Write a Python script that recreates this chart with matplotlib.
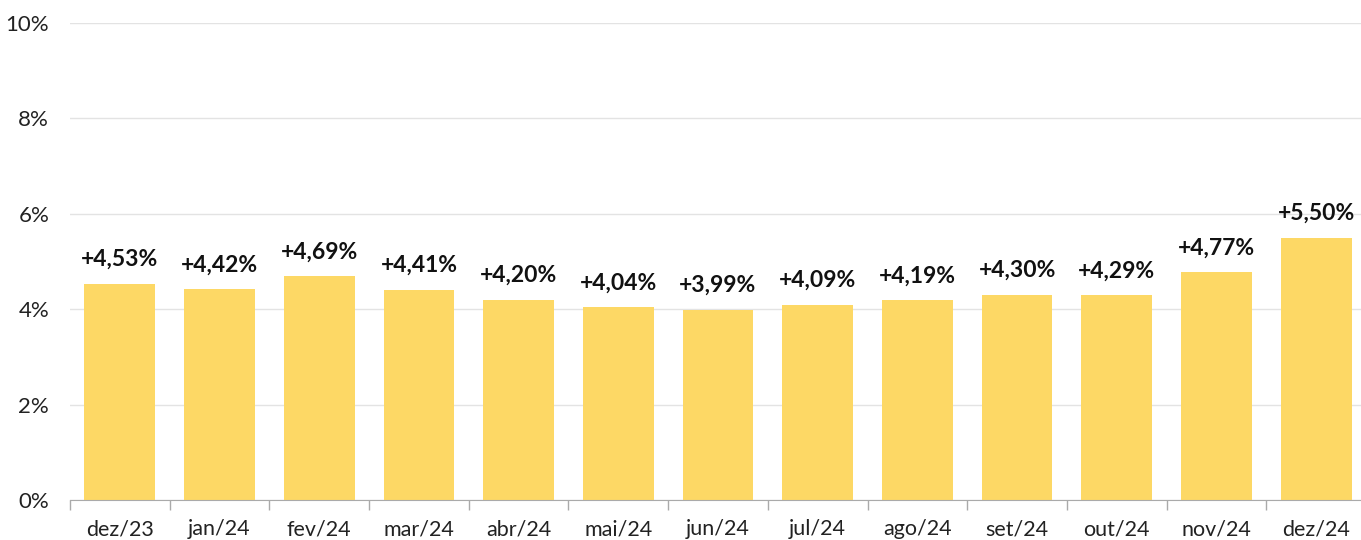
import matplotlib
matplotlib.use("Agg")
import matplotlib.pyplot as plt
import numpy as np

months = ["dez/23", "jan/24", "fev/24", "mar/24", "abr/24", "mai/24", "jun/24",
          "jul/24", "ago/24", "set/24", "out/24", "nov/24", "dez/24"]
values = [4.53, 4.42, 4.69, 4.41, 4.20, 4.04, 3.99, 4.09, 4.19, 4.30, 4.29, 4.77, 5.50]
y_ticks = [0, 2, 4, 6, 8, 10]

plt.rcParams["font.family"] = ["Lato", "DejaVu Sans"]

W, H = 1361, 540
fig = plt.figure(figsize=(W / 100, H / 100), dpi=100)
ax = fig.add_axes([70 / W, 40 / H, 1296 / W, 477 / H])

x = np.arange(len(months))
ax.bar(x, values, width=0.71, color="#FDD865", zorder=2)

for xi, v in zip(x, values):
    label = "+" + f"{v:.2f}".replace(".", ",") + "%"
    ax.annotate(label, (xi, v), xytext=(0, 10), textcoords="offset points",
                ha="center", va="bottom", fontsize=16.5, fontweight="bold",
                color="#111111")

ax.set_xlim(-0.5, len(months) - 0.5)
ax.set_ylim(0, 10)
ax.set_yticks(y_ticks)
ax.set_yticklabels([f"{t}%" for t in y_ticks])
ax.yaxis.grid(True, color="#e3e3e3", linewidth=1, zorder=0)
ax.tick_params(axis="y", length=0, labelsize=16, pad=15, colors="#222222")

ax.set_xticks(x)
ax.set_xticklabels(months)
ax.set_xticks(np.arange(len(months)) - 0.5, minor=True)
ax.tick_params(axis="x", which="major", length=0, labelsize=15.5, pad=14, colors="#222222")
ax.tick_params(axis="x", which="minor", length=7, color="#aaaaaa", width=1)

for side in ["top", "right", "left"]:
    ax.spines[side].set_visible(False)
ax.spines["bottom"].set_color("#aaaaaa")
ax.spines["bottom"].set_zorder(3)

fig.savefig("out.png", dpi=100)
